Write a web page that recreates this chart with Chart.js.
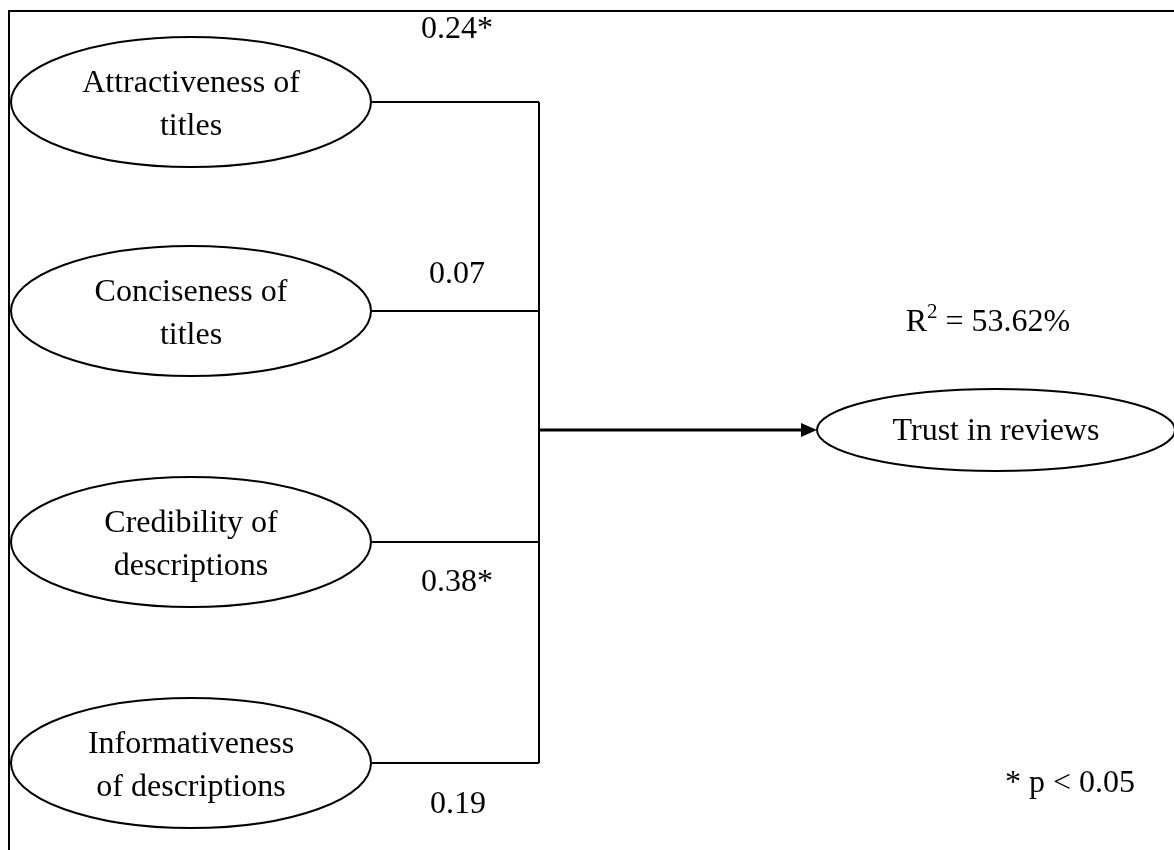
<!DOCTYPE html>
<html>
<head>
<meta charset="utf-8">
<script src="https://cdn.jsdelivr.net/npm/chart.js@4.4.0/dist/chart.umd.min.js"></script>
<style>
  html, body { margin: 0; padding: 0; background: #fff; }
  #wrap { width: 1174px; height: 850px; position: relative; }
</style>
</head>
<body>
<div id="wrap"><canvas id="pathChart"></canvas></div>
<script>
// --- data ---
const predictors = [
    ['Attractiveness of', 'titles'],
    ['Conciseness of', 'titles'],
    ['Credibility of', 'descriptions'],
    ['Informativeness', 'of descriptions']
];
const pathCoefficients = [0.24, 0.07, 0.38, 0.19];
const significant = [true, false, true, false];
const outcome = 'Trust in reviews';
const rSquared = 53.62;
const pLevel = 0.05;

// --- layout (chart units = pixels of the figure) ---
const W = 1174, H = 850;
const nodeX = 191, nodeRx = 180, nodeRy = 65;
const nodeY = [102, 311, 542, 763];
const busX = 539;
const coefX = [457, 457, 457, 458];
const coefY = [30, 275, 583, 805];
const outX = 996, outY = 430, outRx = 179, outRy = 41;
const FONT = '"Liberation Serif", "Times New Roman", serif';

const lineDatasets = [];
predictors.forEach((p, i) => {
    lineDatasets.push({
        data: [{ x: nodeX + nodeRx, y: nodeY[i] }, { x: busX, y: nodeY[i] }],
        borderWidth: 2
    });
});
lineDatasets.push({
    data: [{ x: busX, y: nodeY[0] }, { x: busX, y: nodeY[nodeY.length - 1] }],
    borderWidth: 2
});
lineDatasets.push({
    data: [{ x: busX, y: outY }, { x: outX - outRx - 14, y: outY }],
    borderWidth: 3
});
lineDatasets.forEach(d => {
    d.showLine = true;
    d.borderColor = '#000';
    d.pointRadius = 0;
    d.fill = false;
});

const diagramPlugin = {
    id: 'diagram',
    afterDatasetsDraw(chart) {
        const ctx = chart.ctx;
        const xs = chart.scales.x, ys = chart.scales.y;
        const px = v => xs.getPixelForValue(v);
        const py = v => ys.getPixelForValue(v);
        const sx = v => px(v) - px(0);
        const sy = v => Math.abs(py(v) - py(0));

        ctx.save();
        ctx.strokeStyle = '#000';
        ctx.fillStyle = '#000';

        // frame
        ctx.lineWidth = 2;
        ctx.beginPath();
        ctx.moveTo(px(W), py(11));
        ctx.lineTo(px(9), py(11));
        ctx.lineTo(px(9), py(H));
        ctx.stroke();

        ctx.font = '32px ' + FONT;
        ctx.textAlign = 'center';
        ctx.textBaseline = 'middle';

        // predictor ellipses
        predictors.forEach((lines, i) => {
            ctx.beginPath();
            ctx.ellipse(px(nodeX), py(nodeY[i]), sx(nodeRx), sy(nodeRy), 0, 0, Math.PI * 2);
            ctx.fillStyle = '#fff';
            ctx.fill();
            ctx.lineWidth = 2;
            ctx.stroke();
            ctx.fillStyle = '#000';
            ctx.fillText(lines[0], px(nodeX), py(nodeY[i] - 18));
            ctx.fillText(lines[1], px(nodeX), py(nodeY[i] + 25));
        });

        // coefficients
        pathCoefficients.forEach((c, i) => {
            const t = c.toFixed(2) + (significant[i] ? '*' : '');
            ctx.fillText(t, px(coefX[i]), py(coefY[i]));
        });

        // outcome ellipse
        ctx.beginPath();
        ctx.ellipse(px(outX), py(outY), sx(outRx), sy(outRy), 0, 0, Math.PI * 2);
        ctx.lineWidth = 2;
        ctx.stroke();
        ctx.fillText(outcome, px(outX), py(outY + 2));

        // arrowhead
        const tip = outX - outRx;
        ctx.beginPath();
        ctx.moveTo(px(tip), py(outY));
        ctx.lineTo(px(tip - 16), py(outY - 7));
        ctx.lineTo(px(tip - 16), py(outY + 7));
        ctx.closePath();
        ctx.fill();

        // R squared with superscript
        const a = 'R', sup = '2', b = ' = ' + rSquared.toFixed(2) + '%';
        ctx.font = '32px ' + FONT;
        const wa = ctx.measureText(a).width, wb = ctx.measureText(b).width;
        ctx.font = '21px ' + FONT;
        const ws = ctx.measureText(sup).width;
        let x0 = px(988) - (wa + ws + wb) / 2;
        ctx.textAlign = 'left';
        ctx.textBaseline = 'alphabetic';
        ctx.font = '32px ' + FONT;
        ctx.fillText(a, x0, py(331));
        ctx.font = '21px ' + FONT;
        ctx.fillText(sup, x0 + wa, py(318));
        ctx.font = '32px ' + FONT;
        ctx.fillText(b, x0 + wa + ws, py(331));

        // significance note
        ctx.textAlign = 'center';
        ctx.fillText('* p < ' + pLevel.toFixed(2), px(1070), py(792));

        ctx.restore();
    }
};

new Chart(document.getElementById('pathChart').getContext('2d'), {
    type: 'scatter',
    data: { datasets: lineDatasets },
    options: {
        responsive: true,
        maintainAspectRatio: false,
        animation: false,
        layout: { padding: 0 },
        plugins: {
            legend: { display: false },
            tooltip: { enabled: false },
            title: { display: false }
        },
        scales: {
            x: { type: 'linear', min: 0, max: W, display: false },
            y: { type: 'linear', min: 0, max: H, reverse: true, display: false }
        }
    },
    plugins: [diagramPlugin]
});
</script>
</body>
</html>
